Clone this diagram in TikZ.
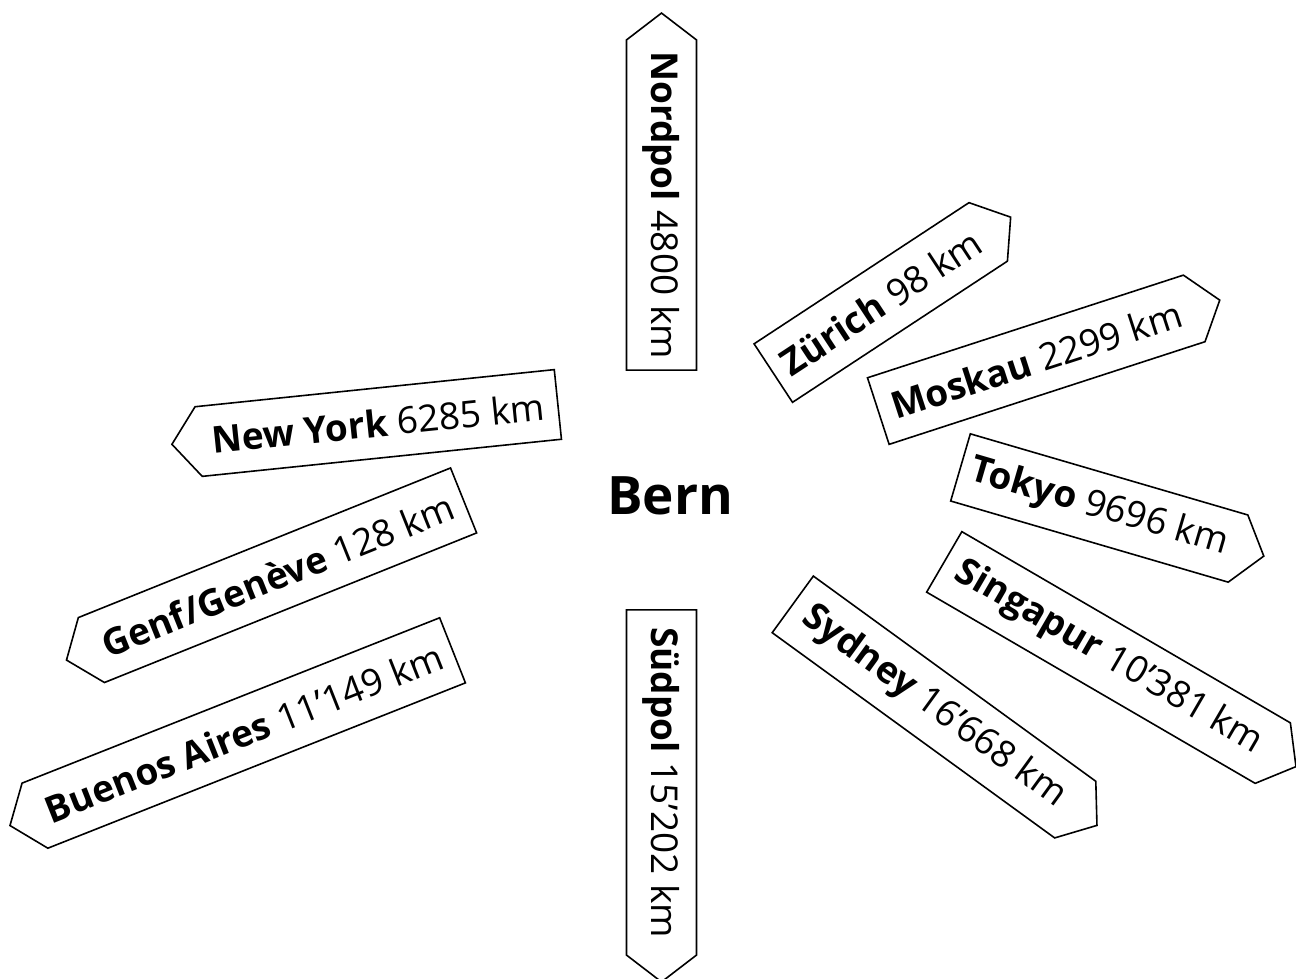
\documentclass[tikz,border=0pt]{standalone}
\usepackage{fontspec}
\setmainfont{Open Sans}
\usetikzlibrary{shapes.symbols}

\begin{document}
\begin{tikzpicture}[x=1pt, y=1pt,
	signpost/.style={signal, draw, line width=1.6pt, minimum height=70, signal pointer angle=105, inner sep=0pt, font=\fontsize{37}{40}\selectfont}]
	
	\useasboundingbox (0,0) rectangle (1296,978);
	
	%town in the middle
	\node[font=\fontsize{53}{60}\selectfont\bfseries] (bern) at (670,482) {Bern};
	
	%north and south
	\node[signpost, signal to=west, rotate=-90, minimum width=357] (nordpol) at (661.5,773) {\textbf{Nordpol} 4800 km};
	\node[signpost, signal to=east, rotate=-90, minimum width=372] (suedpol) at (661.5,195.5) {\textbf{Südpol} 15’202 km};
	
	%signposts to the right
	\node[signpost, signal to=east, rotate=33.3, minimum width=284] (zuerich) at (880.75,675.5) {\textbf{Zürich} 98 km};
	\node[signpost, signal to=east, rotate=18, minimum width=359] (moskau) at (1036.25,618.25) {\textbf{Moskau} 2299 km};
	\node[signpost, signal to=east, rotate=-16.3, minimum width=316] (tokyo) at (1099.25,470) {\textbf{Tokyo} 9696 km};
	\node[signpost, signal to=east, rotate=-30.2, minimum width=407] (singapur) at (1108.5,320.5) {\textbf{Singapur} 10’381 km};
	\node[signpost, signal to=east, rotate=-36, minimum width=376] (sydney) at (934,271) {\textbf{Sydney} 16’668 km};
	
	%signposts to the left
	\node[signpost, signal to=west, rotate=5.9, minimum width=388] (newyork) at (378.25,555) {\textbf{New York} 6285 km};
	\node[signpost, signal to=west, rotate=21.9, minimum width=428] (genf) at (277.5,402.75) {\textbf{Genf/Genève} 128 km};
	\node[signpost, signal to=west, rotate=21.6, minimum width=476] (buenosaires) at (243.75,245) {\textbf{Buenos Aires} 11’149 km};
	
\end{tikzpicture}
\end{document}
